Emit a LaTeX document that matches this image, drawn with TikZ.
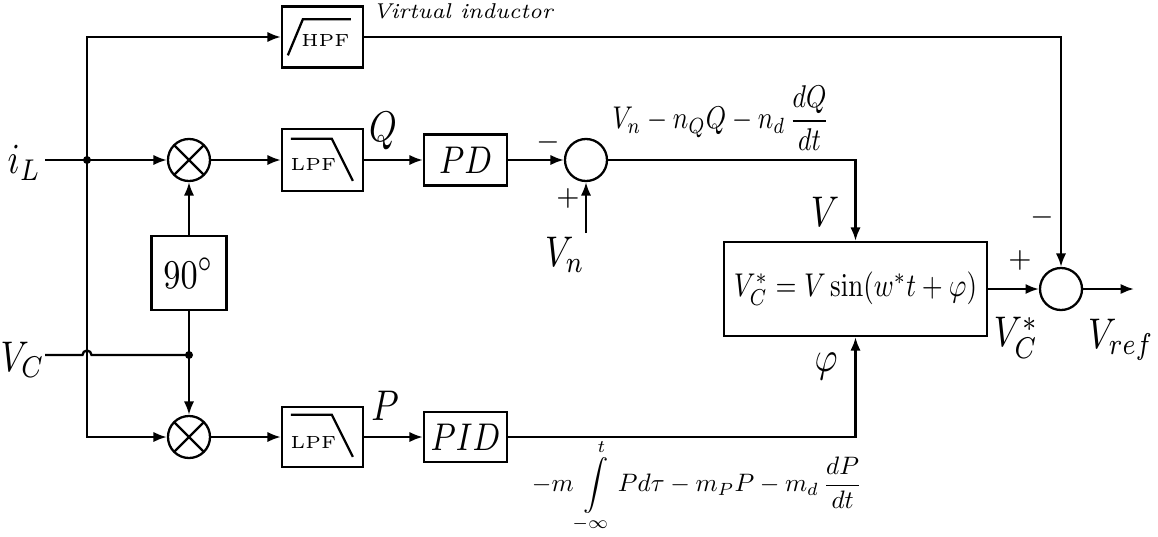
\RequirePackage{fix-cm}
\documentclass[tikz,border=0pt]{standalone}
\usepackage{amsmath}
\usepackage{graphicx}
\usetikzlibrary{arrows.meta,calc}
\newcommand{\vs}[1]{\scalebox{1}[1.22]{#1}}
\newcommand{\fitw}[2]{\scalebox{1}[1.22]{\resizebox{#1}{!}{#2}}}
\tikzset{blk/.style={draw, inner sep=0pt},
  sumc/.style={draw, circle, minimum size=0.42cm, inner sep=0pt},
  mulc/.style={sumc, path picture={\draw (path picture bounding box.north west) -- (path picture bounding box.south east)
      (path picture bounding box.north east) -- (path picture bounding box.south west);}},
  sig/.style={-{Latex[length=3.8pt,width=2.9pt]}},
  jdot/.style={circle, fill, inner sep=0pt, minimum size=0.08cm},
  lbl/.style={inner sep=0pt, font=\fontsize{10}{12}\selectfont},
  sgn/.style={inner sep=0pt, font=\fontsize{8}{10}\selectfont},
  ftxt/.style={inner sep=0pt, font=\fontsize{5}{6}\selectfont}}

\begin{document}
\begin{tikzpicture}[x=0.01cm, y=-0.01cm, line width=0.65pt]
  \useasboundingbox (0,0) rectangle (1158,536);

  % ---------- filter boxes ----------
  \node[blk, minimum width=0.81cm, minimum height=0.61cm] (hpf) at (322.5,37) {};
  \draw[shift={(hpf.north west)}] (7,50) -- (22,14) -- (70,14);
  \node[ftxt] (hpft) at ($(hpf)+(3,3)$) {HPF};
  \node[blk, minimum width=0.81cm, minimum height=0.62cm] (lpfq) at (322.5,160) {};
  \draw[shift={(lpfq.north west)}] (10,11) -- (51,11) -- (72,53);
  \node[ftxt] (lpfqt) at ($(lpfq)+(-9,4)$) {LPF};
  \node[blk, minimum width=0.81cm, minimum height=0.60cm] (lpfp) at (322.5,437) {};
  \draw[shift={(lpfp.north west)}] (10,9) -- (51,9) -- (72,51);
  \node[ftxt] (lpfpt) at ($(lpfp)+(-9,5)$) {LPF};

  % ---------- multipliers, 90 deg shift ----------
  \node[mulc] (mulq) at (189,160) {};
  \node[mulc] (mulp) at (189,437) {};
  \node[blk, minimum width=0.75cm, minimum height=0.74cm, font=\fontsize{9.5}{12}\selectfont] (shift) at (189,273) {\vs{$90^{\circ}$}};

  % ---------- controllers, sums, generator ----------
  \node[blk, minimum width=0.83cm, minimum height=0.51cm, font=\fontsize{9}{11}\selectfont] (pd) at (465.5,160) {\vs{$PD$}};
  \node[blk, minimum width=0.83cm, minimum height=0.50cm, font=\fontsize{9}{11}\selectfont] (pid) at (465.5,437) {\vs{$PID$}};
  \node[sumc] (sumq) at (586,160) {};
  \node[blk, minimum width=2.63cm, minimum height=0.94cm] (gen) at (855.5,289) {\fitw{2.43cm}{$V_{C}^{*}=V\sin(w^{*}t+\varphi)$}};
  \node[sumc] (sumv) at (1061,289) {};

  % ---------- inputs ----------
  \coordinate (il) at (45,160);
  \coordinate (ji) at (87,160);
  \coordinate (vc) at (45,355);
  \coordinate (jv) at (189,355);
  \coordinate (vn) at (586,233);
  \coordinate (vref) at (1134,289);
  \node[jdot] (jid) at (ji) {};
  \node[jdot] (jvd) at (jv) {};

  \draw[sig] (il) -- (mulq);
  \draw[sig] (ji) |- (hpf.west);
  \draw[sig] (ji) |- (mulp.west);
  \draw (vc) -- ($(ji|-jv)+(-4.5,0)$) arc[start angle=180, end angle=0, radius=0.045cm] -- (jv);
  \draw (jv) -- (shift.south);
  \draw[sig] (shift.north) -- (mulq.south);
  \draw[sig] (jv) -- (mulp.north);

  % ---------- Q path ----------
  \draw[sig] (mulq) -- (lpfq);
  \draw[sig] (lpfq) -- (pd);
  \draw[sig] (pd) -- (sumq);
  \draw[sig] (vn) -- (sumq.south);
  \draw[sig] (sumq.east) -| (gen.north);

  % ---------- P path ----------
  \draw[sig] (mulp) -- (lpfp);
  \draw[sig] (lpfp) -- (pid);
  \draw[sig] (pid.east) -| (gen.south);

  % ---------- output ----------
  \draw[sig] (hpf.east) -| (sumv.north);
  \draw[sig] (gen) -- (sumv);
  \draw[sig] (sumv) -- (vref);

  % ---------- labels ----------
  \node[lbl, anchor=east] (ilt) at (42,163) {\vs{$i_{L}$}};
  \node[lbl, anchor=east] (vct) at (46,360) {\vs{$V_{C}$}};
  \node[lbl] (qt) at (383,131) {\vs{$Q$}};
  \node[lbl] (pt) at (385,406) {\vs{$P$}};
  \node[lbl] (vnt) at (565,255) {\vs{$V_{n}$}};
  \node[lbl] (vt) at (825,212) {\vs{$V$}};
  \node[lbl] (phit) at (826,366) {\vs{$\varphi$}};
  \node[lbl] (vcst) at (1016,338) {\vs{$V_{C}^{*}$}};
  \node[lbl] (vreft) at (1121,340) {\vs{$V_{ref}$}};
  \node[sgn] (s1) at (548,142) {$-$};
  \node[sgn] (s2) at (568,198) {$+$};
  \node[sgn] (s3) at (1042,217) {$-$};
  \node[sgn] (s4) at (1020,260) {$+$};
  \node[inner sep=0pt, anchor=west, font=\fontsize{6.1}{8}\selectfont\itshape] (vit) at (372,11) {Virtual inductor};
  \node[inner sep=0pt] (qexp) at (721,118) {\fitw{2.17cm}{$V_{n}-n_{Q}Q-n_{d}\,\dfrac{dQ}{dt}$}};
  \node[inner sep=0pt] (pexp) at (697,486)
        {\resizebox{3.30cm}{!}{$\displaystyle -m\int\limits_{-\infty}^{t}P d\tau-m_{P}P-m_{d}\,\frac{dP}{dt}$}};

\end{tikzpicture}
\end{document}
